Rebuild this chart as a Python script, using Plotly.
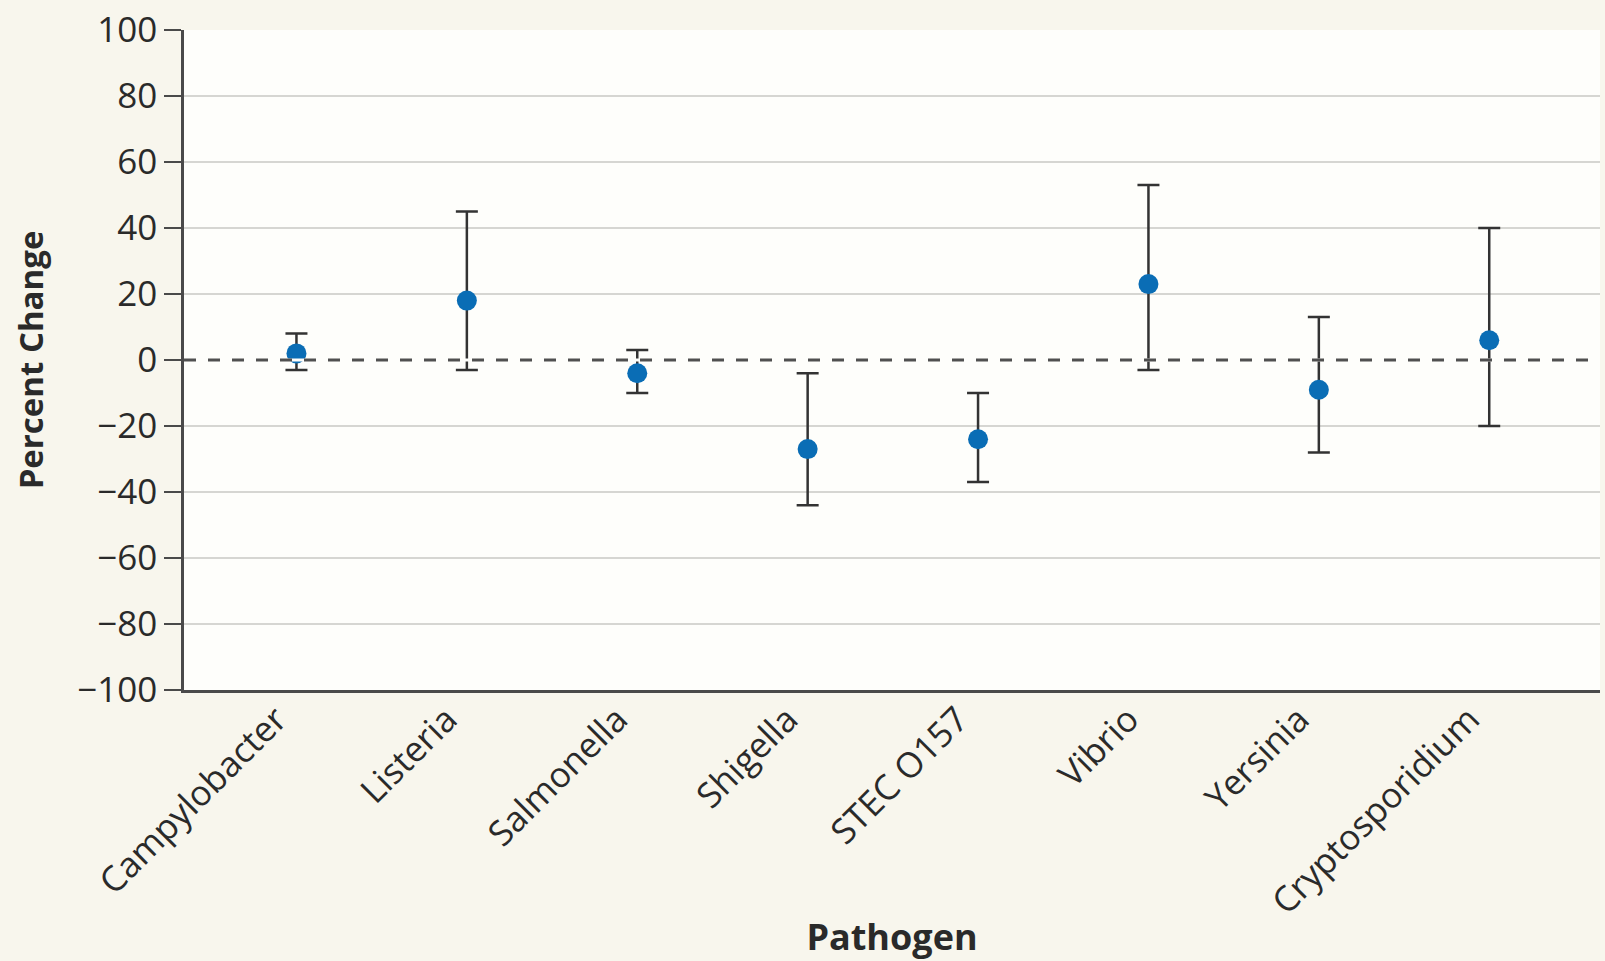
import plotly.graph_objects as go

pathogens = ["Campylobacter", "Listeria", "Salmonella", "Shigella",
             "STEC O157", "Vibrio", "Yersinia", "Cryptosporidium"]
pct_change = [2, 18, -4, -27, -24, 23, -9, 6]
ci_low = [-3, -3, -10, -44, -37, -3, -28, -20]
ci_high = [8, 45, 3, -4, -10, 53, 13, 40]
y_ticks = [-100, -80, -60, -40, -20, 0, 20, 40, 60, 80, 100]
reference_value = 0

err_plus = [h - v for h, v in zip(ci_high, pct_change)]
err_minus = [v - l for v, l in zip(pct_change, ci_low)]

FONT = "Open Sans"
AX = "#4a4a4a"
TXT = "#2a2a2a"
PAPER = "#f8f6ed"
PLOTBG = "#fefefb"

fig = go.Figure()
# reference line at zero, spanning the full plot width (overlay axis in [0, 1])
for col, dash, w in [(PLOTBG, "solid", 3), ("#505050", "12px,12px", 2.8)]:
    fig.add_trace(go.Scatter(
        x=[0, 1], y=[reference_value, reference_value], xaxis="x2", mode="lines",
        line=dict(color=col, width=w, dash=dash), hoverinfo="skip", showlegend=False,
    ))
fig.add_trace(go.Scatter(
    x=pathogens, y=pct_change, mode="markers",
    marker=dict(color="#0a6db5", size=20),
    error_y=dict(type="data", symmetric=False, array=err_plus,
                 arrayminus=err_minus, color="#333333", thickness=2.5, width=11),
    showlegend=False,
))

fig.update_layout(
    width=1605, height=961,
    margin=dict(l=184, r=5, t=26, b=271),
    paper_bgcolor=PAPER,
    plot_bgcolor=PLOTBG,
    font=dict(family=FONT, color=TXT, size=35),
    xaxis2=dict(overlaying="x", range=[0, 1], visible=False, fixedrange=True),
)
fig.update_layout(xaxis=dict(
    range=[-0.66, 7.65], tickangle=-45, showgrid=False, zeroline=False,
    showline=True, linecolor=AX, linewidth=2.5, ticks="",
    tickfont=dict(size=35, family=FONT, color=TXT),
    ticklabelstandoff=-8, ticklabelshift=-20,
    title=dict(text="<b>Pathogen</b>", font=dict(size=36, family=FONT, color=TXT), standoff=4),
))
fig.update_yaxes(
    range=[-100, 100], tickvals=y_ticks, showgrid=True, gridcolor="#d6d6d2", gridwidth=1.5,
    zeroline=False, showline=True, linecolor=AX, linewidth=2.5,
    ticks="outside", ticklen=17, tickwidth=2, tickcolor=AX,
    tickfont=dict(size=35, family=FONT, color=TXT),
    title=dict(text="<b>Percent Change</b>", font=dict(size=33, family=FONT, color=TXT), standoff=24),
)

fig.write_html(
    "out.html",
    config={"displayModeBar": False},
    post_script="document.body.style.margin='0';document.body.style.background='%s';" % PAPER,
)
